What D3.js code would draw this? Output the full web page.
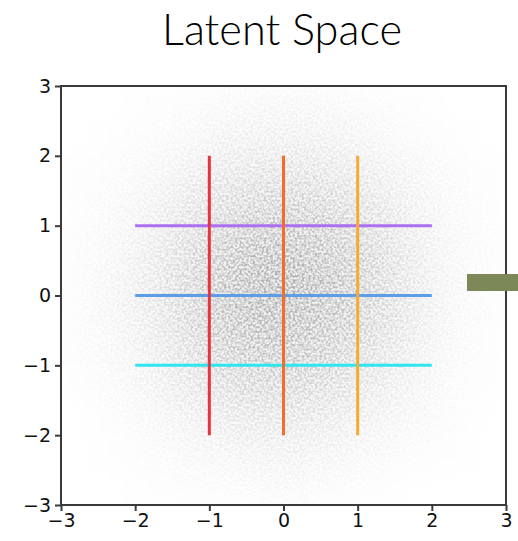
<!DOCTYPE html>
<html>
<head>
<meta charset="utf-8">
<script src="https://cdn.jsdelivr.net/npm/d3@7"></script>
<style>
  html, body { margin: 0; padding: 0; background: #fff; }
  svg { display: block; }
</style>
</head>
<body>
<svg id="chart" width="518" height="541"></svg>
<script>
// Axis ticks
const xTicks = [-3, -2, -1, 0, 1, 2, 3];
const yTicks = [-3, -2, -1, 0, 1, 2, 3];

// Sample density of the latent cloud on a 0.5-unit grid (rows top to bottom)
const gridX = [-2.75, -2.25, -1.75, -1.25, -0.75, -0.25, 0.25, 0.75, 1.25, 1.75, 2.25, 2.75];
const gridY = [2.75, 2.25, 1.75, 1.25, 0.75, 0.25, -0.25, -0.75, -1.25, -1.75, -2.25, -2.75];
const density = [
  [0.000, 0.000, 0.005, 0.010, 0.015, 0.020, 0.020, 0.015, 0.010, 0.005, 0.000, 0.000],
  [0.000, 0.005, 0.010, 0.020, 0.030, 0.035, 0.035, 0.030, 0.020, 0.010, 0.005, 0.000],
  [0.005, 0.010, 0.020, 0.040, 0.055, 0.065, 0.065, 0.055, 0.040, 0.025, 0.010, 0.005],
  [0.005, 0.015, 0.035, 0.060, 0.085, 0.100, 0.100, 0.085, 0.060, 0.035, 0.015, 0.005],
  [0.010, 0.020, 0.045, 0.080, 0.115, 0.135, 0.130, 0.110, 0.080, 0.045, 0.020, 0.010],
  [0.010, 0.025, 0.050, 0.090, 0.130, 0.155, 0.150, 0.125, 0.090, 0.050, 0.020, 0.010],
  [0.010, 0.025, 0.050, 0.090, 0.130, 0.150, 0.145, 0.120, 0.085, 0.050, 0.020, 0.010],
  [0.010, 0.020, 0.040, 0.075, 0.110, 0.125, 0.120, 0.100, 0.070, 0.040, 0.015, 0.005],
  [0.005, 0.015, 0.030, 0.055, 0.080, 0.095, 0.090, 0.075, 0.050, 0.030, 0.010, 0.005],
  [0.000, 0.010, 0.020, 0.035, 0.050, 0.060, 0.055, 0.045, 0.030, 0.020, 0.010, 0.000],
  [0.000, 0.005, 0.010, 0.020, 0.025, 0.030, 0.030, 0.025, 0.015, 0.010, 0.005, 0.000],
  [0.000, 0.000, 0.005, 0.010, 0.010, 0.015, 0.015, 0.010, 0.005, 0.000, 0.000, 0.000]
];

// Grid traversal lines through the latent space
const verticalLines = [
  { x: -1, y0: -2, y1: 2, color: "#e8343c" },
  { x: 0,  y0: -2, y1: 2, color: "#f26d2c" },
  { x: 1,  y0: -2, y1: 2, color: "#f7aa32" }
];
const horizontalLines = [
  { y: 1,  x0: -2, x1: 2, color: "#ab6ff0" },
  { y: 0,  x0: -2, x1: 2, color: "#5c9de8" },
  { y: -1, x0: -2, x1: 2, color: "#30e6ee" }
];

const svg = d3.select("#chart");
const plotL = 61, plotR = 506, plotT = 86, plotB = 505;

const x = d3.scaleLinear().domain([-3, 3]).range([plotL, plotR]);
const y = d3.scaleLinear().domain([-3, 3]).range([plotB, plotT]);

const defs = svg.append("defs");
defs.append("clipPath").attr("id", "plotClip")
  .append("rect").attr("x", plotL).attr("y", plotT)
  .attr("width", plotR - plotL).attr("height", plotB - plotT);

// Soft, grainy haze for the point cloud
const f = defs.append("filter").attr("id", "haze")
  .attr("filterUnits", "userSpaceOnUse")
  .attr("x", plotL).attr("y", plotT).attr("width", plotR - plotL).attr("height", plotB - plotT);
f.append("feGaussianBlur").attr("in", "SourceGraphic").attr("stdDeviation", 18).attr("result", "soft");
f.append("feTurbulence").attr("type", "fractalNoise").attr("baseFrequency", 0.45)
  .attr("numOctaves", 1).attr("seed", 7).attr("result", "noise");
f.append("feColorMatrix").attr("in", "noise").attr("type", "matrix")
  .attr("values", "0 0 0 0 0  0 0 0 0 0  0 0 0 0 0  3.2 0 0 0 -1.2").attr("result", "grain");
f.append("feComposite").attr("in", "soft").attr("in2", "grain")
  .attr("operator", "arithmetic").attr("k1", 1.4).attr("k2", 0.35).attr("k3", 0).attr("k4", 0);

const cells = [];
gridY.forEach((gy, i) => gridX.forEach((gx, j) => cells.push({ gx, gy, v: density[i][j] })));

const cloud = svg.append("g").attr("clip-path", "url(#plotClip)")
  .append("g").attr("filter", "url(#haze)");
cloud.selectAll("rect").data(cells).join("rect")
  .attr("x", d => x(d.gx - 0.25))
  .attr("y", d => y(d.gy + 0.25))
  .attr("width", x(0.5) - x(0))
  .attr("height", y(0) - y(0.5))
  .attr("fill", "#000")
  .attr("fill-opacity", d => d.v * 1.25);

// Lines
svg.append("g").selectAll("line").data(horizontalLines).join("line")
  .attr("x1", d => x(d.x0)).attr("x2", d => x(d.x1))
  .attr("y1", d => y(d.y)).attr("y2", d => y(d.y))
  .attr("stroke", d => d.color).attr("stroke-width", 3);
svg.append("g").selectAll("line").data(verticalLines).join("line")
  .attr("x1", d => x(d.x)).attr("x2", d => x(d.x))
  .attr("y1", d => y(d.y0)).attr("y2", d => y(d.y1))
  .attr("stroke", d => d.color).attr("stroke-width", 3);

// Frame
svg.append("rect").attr("x", plotL).attr("y", plotT)
  .attr("width", plotR - plotL).attr("height", plotB - plotT)
  .attr("fill", "none").attr("stroke", "#3a3a3a").attr("stroke-width", 2);

// Axes
const fmt = d => d < 0 ? "\u2212" + Math.abs(d) : String(d);
const xAxis = svg.append("g").attr("transform", `translate(0,${plotB})`)
  .call(d3.axisBottom(x).tickValues(xTicks).tickFormat(fmt).tickSize(6).tickPadding(3));
const yAxis = svg.append("g").attr("transform", `translate(${plotL},0)`)
  .call(d3.axisLeft(y).tickValues(yTicks).tickFormat(fmt).tickSize(6).tickPadding(4));
[xAxis, yAxis].forEach(a => {
  a.select(".domain").remove();
  a.selectAll(".tick line").attr("stroke", "#3a3a3a").attr("stroke-width", 2);
  a.selectAll(".tick text").attr("fill", "#111")
    .style("font-family", "'DejaVu Sans', sans-serif").style("font-size", "19px");
});

// Arrow stub on the right edge
svg.append("rect").attr("x", 467).attr("y", 274).attr("width", 51).attr("height", 17)
  .attr("fill", "#7d8859");

// Title
const title = svg.append("text").attr("x", 282).attr("y", 45)
  .attr("text-anchor", "middle")
  .style("font-family", "Lato, 'Open Sans', sans-serif").style("font-weight", 300)
  .style("font-size", "40px").attr("fill", "#000").text("Latent Space");
const w = title.node().getComputedTextLength();
title.style("font-size", (40 * 240 / w) + "px");
</script>
</body>
</html>
